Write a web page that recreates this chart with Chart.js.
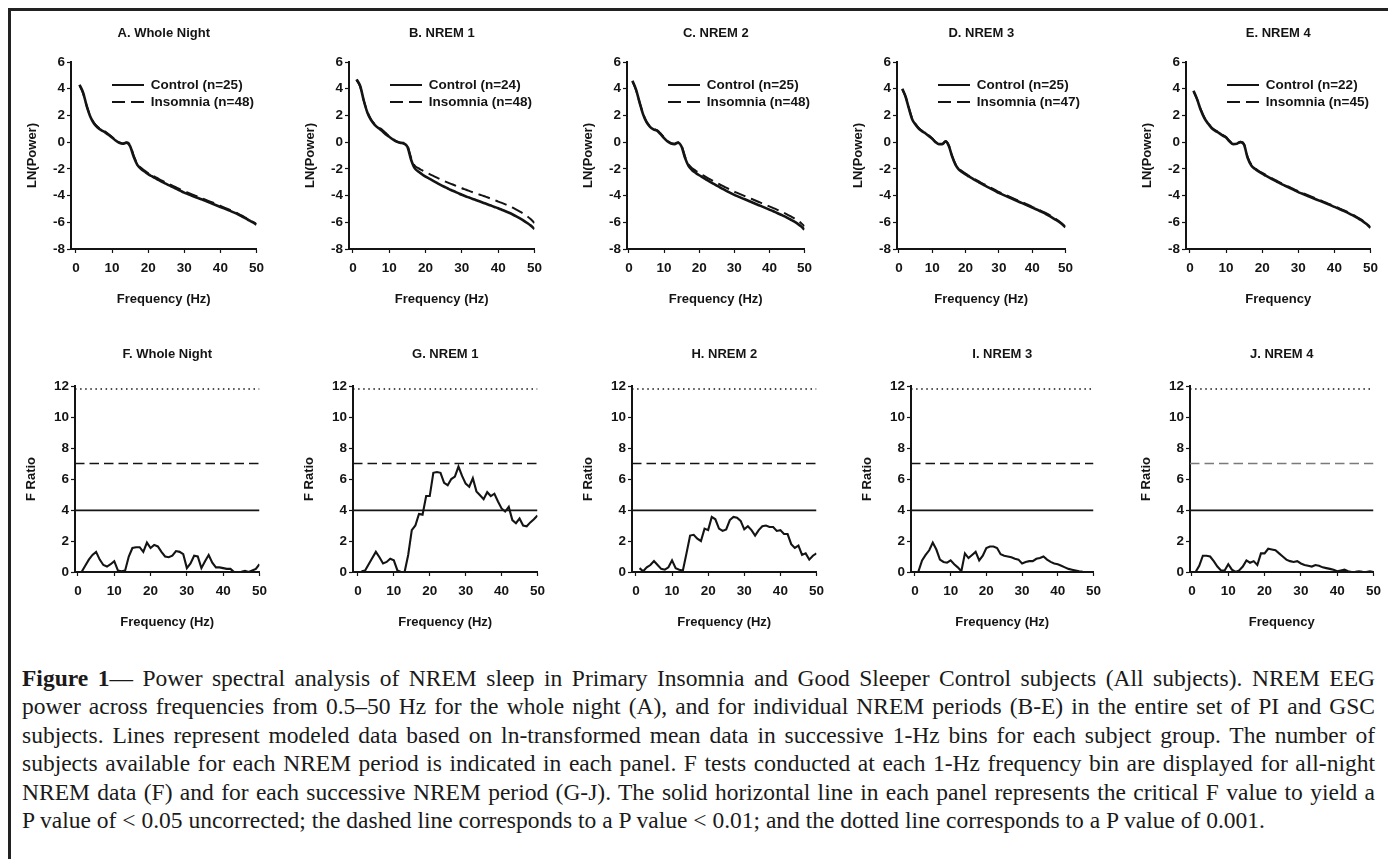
<!DOCTYPE html>
<html><head><meta charset="utf-8">
<script src="https://cdn.jsdelivr.net/npm/chart.js@4.4.1/dist/chart.umd.min.js"></script>
<style>
html,body{margin:0;padding:0;background:#fff;width:1388px;height:859px;overflow:hidden;position:relative;}
#frame{position:absolute;left:8px;top:8px;width:1400px;height:870px;border-top:3px solid #222;border-left:3px solid #222;}
canvas{position:absolute;}
#caption{position:absolute;left:22px;width:1353px;top:664px;font-family:"Liberation Serif","Times New Roman",serif;font-size:23.5px;line-height:28.4px;color:#1a1a1a;}
#caption .l{text-align:justify;text-align-last:justify;}
#caption .last{text-align:left;}
</style></head>
<body>
<div id="frame"></div>
<div id="caption">
<div class="l"><b>Figure 1</b>— Power spectral analysis of NREM sleep in Primary Insomnia and Good Sleeper Control subjects (All subjects). NREM EEG</div>
<div class="l">power across frequencies from 0.5–50 Hz for the whole night (A), and for individual NREM periods (B-E) in the entire set of PI and GSC</div>
<div class="l">subjects. Lines represent modeled data based on ln-transformed mean data in successive 1-Hz bins for each subject group. The number of</div>
<div class="l">subjects available for each NREM period is indicated in each panel. F tests conducted at each 1-Hz frequency bin are displayed for all-night</div>
<div class="l">NREM data (F) and for each successive NREM period (G-J). The solid horizontal line in each panel represents the critical F value to yield a</div>
<div class="last">P value of &lt; 0.05 uncorrected; the dashed line corresponds to a P value &lt; 0.01; and the dotted line corresponds to a P value of 0.001.</div>
</div>
<script>
// ---------------- DATA ----------------
const freqHz = [1,2,3,4,5,6,7,8,9,10,11,12,13,14,15,16,17,18,19,20,21,22,23,24,25,26,27,28,29,30,31,32,33,34,35,36,37,38,39,40,41,42,43,44,45,46,47,48,49,50];
const xTickValues = [0,10,20,30,40,50];
const powerTickValues = [-8,-6,-4,-2,0,2,4,6];
const fTickValues = [0,2,4,6,8,10,12];

const powerTitles = ['A. Whole Night','B. NREM 1','C. NREM 2','D. NREM 3','E. NREM 4'];
const fTitles = ['F. Whole Night','G. NREM 1','H. NREM 2','I. NREM 3','J. NREM 4'];
const powerXTitles = ['Frequency (Hz)','Frequency (Hz)','Frequency (Hz)','Frequency (Hz)','Frequency'];
const fXTitles = ['Frequency (Hz)','Frequency (Hz)','Frequency (Hz)','Frequency (Hz)','Frequency'];
const controlN = [25,24,25,25,22];
const insomniaN = [48,48,48,47,45];
const criticalF = [3.98, 7.0, 11.8]; // p<0.05, p<0.01, p=0.001

const controlA = [4.3,3.7,2.7,1.9,1.4,1.1,0.9,0.75,0.55,0.35,0.12,-0.05,-0.12,-0.05,-0.3,-1.1,-1.7,-2.0,-2.2,-2.4,-2.55,-2.7,-2.85,-3.0,-3.13,-3.26,-3.39,-3.52,-3.65,-3.78,-3.89,-4.0,-4.1,-4.2,-4.3,-4.41,-4.52,-4.63,-4.74,-4.85,-4.96,-5.07,-5.18,-5.3,-5.43,-5.57,-5.71,-5.86,-6.01,-6.17];
const insomniaA = [4.25,3.65,2.7,1.95,1.45,1.15,0.95,0.8,0.6,0.38,0.15,-0.02,-0.1,0.0,-0.2,-1.0,-1.62,-1.92,-2.12,-2.31,-2.46,-2.61,-2.76,-2.9,-3.03,-3.16,-3.29,-3.42,-3.55,-3.68,-3.79,-3.9,-4.01,-4.11,-4.21,-4.32,-4.43,-4.54,-4.65,-4.77,-4.88,-5.0,-5.12,-5.24,-5.37,-5.51,-5.66,-5.81,-5.97,-6.13];
const controlB = [4.7,4.2,3.1,2.2,1.65,1.3,1.05,0.85,0.6,0.4,0.2,0.05,-0.05,-0.1,-0.35,-1.3,-1.95,-2.2,-2.4,-2.58,-2.73,-2.88,-3.03,-3.18,-3.32,-3.45,-3.58,-3.7,-3.82,-3.94,-4.05,-4.15,-4.25,-4.35,-4.45,-4.55,-4.65,-4.75,-4.85,-4.95,-5.06,-5.17,-5.29,-5.42,-5.56,-5.71,-5.87,-6.05,-6.25,-6.5];
const insomniaB = [4.65,4.15,3.1,2.25,1.7,1.35,1.1,0.95,0.7,0.45,0.25,0.05,-0.05,-0.05,-0.25,-1.15,-1.75,-1.95,-2.1,-2.25,-2.38,-2.51,-2.64,-2.77,-2.9,-3.01,-3.12,-3.23,-3.34,-3.45,-3.55,-3.65,-3.75,-3.85,-3.94,-4.03,-4.13,-4.23,-4.33,-4.45,-4.55,-4.66,-4.78,-4.91,-5.05,-5.2,-5.36,-5.55,-5.78,-6.05];
const controlC = [4.6,3.95,3.0,2.1,1.5,1.15,0.95,0.85,0.6,0.3,0.05,-0.1,-0.15,-0.05,-0.35,-1.2,-1.8,-2.1,-2.3,-2.48,-2.64,-2.8,-2.95,-3.1,-3.25,-3.4,-3.54,-3.68,-3.82,-3.95,-4.06,-4.17,-4.28,-4.39,-4.5,-4.61,-4.72,-4.83,-4.94,-5.05,-5.16,-5.28,-5.4,-5.52,-5.65,-5.79,-5.93,-6.1,-6.3,-6.55];
const insomniaC = [4.55,3.9,3.0,2.15,1.55,1.2,1.0,0.9,0.65,0.35,0.1,-0.08,-0.12,0.0,-0.28,-1.1,-1.68,-1.95,-2.14,-2.31,-2.47,-2.62,-2.77,-2.91,-3.05,-3.19,-3.32,-3.45,-3.58,-3.71,-3.82,-3.93,-4.04,-4.15,-4.26,-4.37,-4.48,-4.59,-4.7,-4.81,-4.92,-5.03,-5.15,-5.27,-5.4,-5.54,-5.69,-5.86,-6.05,-6.3];
const controlD = [4.0,3.4,2.5,1.7,1.3,1.0,0.8,0.65,0.45,0.25,0.0,-0.15,-0.15,0.05,-0.3,-1.1,-1.7,-2.05,-2.25,-2.42,-2.57,-2.72,-2.87,-3.01,-3.15,-3.28,-3.41,-3.54,-3.67,-3.8,-3.91,-4.02,-4.13,-4.24,-4.35,-4.46,-4.57,-4.68,-4.79,-4.9,-5.01,-5.12,-5.24,-5.36,-5.5,-5.65,-5.8,-5.96,-6.15,-6.38];
const insomniaD = [3.95,3.4,2.55,1.75,1.35,1.05,0.85,0.7,0.5,0.28,0.03,-0.12,-0.12,0.08,-0.25,-1.05,-1.65,-1.98,-2.18,-2.36,-2.51,-2.66,-2.8,-2.94,-3.08,-3.21,-3.34,-3.47,-3.6,-3.73,-3.84,-3.95,-4.06,-4.17,-4.28,-4.39,-4.5,-4.61,-4.72,-4.84,-4.95,-5.06,-5.18,-5.3,-5.43,-5.58,-5.73,-5.9,-6.1,-6.35];
const controlE = [3.85,3.2,2.4,1.8,1.4,1.05,0.85,0.7,0.5,0.35,0.05,-0.15,-0.12,0.0,-0.2,-1.2,-1.75,-2.0,-2.2,-2.36,-2.51,-2.66,-2.81,-2.95,-3.09,-3.22,-3.35,-3.48,-3.61,-3.74,-3.85,-3.96,-4.07,-4.18,-4.29,-4.4,-4.51,-4.62,-4.73,-4.85,-4.96,-5.08,-5.2,-5.33,-5.47,-5.62,-5.78,-5.95,-6.15,-6.42];
const insomniaE = [3.8,3.2,2.45,1.85,1.45,1.1,0.9,0.75,0.55,0.38,0.08,-0.12,-0.1,0.03,-0.15,-1.12,-1.68,-1.94,-2.14,-2.3,-2.45,-2.6,-2.75,-2.89,-3.03,-3.16,-3.29,-3.42,-3.55,-3.68,-3.79,-3.9,-4.01,-4.12,-4.23,-4.34,-4.45,-4.56,-4.68,-4.8,-4.91,-5.03,-5.15,-5.28,-5.42,-5.57,-5.73,-5.91,-6.12,-6.38];

const fWholeNight = [0,0.4,0.8,1.1,1.3,0.8,0.45,0.35,0.5,0.7,0.1,0.05,0.1,1.0,1.55,1.6,1.6,1.3,1.9,1.55,1.75,1.65,1.3,1.0,0.95,1.05,1.35,1.3,1.15,0.25,0.55,1.05,1.0,0.25,0.7,1.1,0.6,0.3,0.3,0.25,0.2,0.2,0.0,0.0,0.02,0.08,0.0,0.1,0.2,0.5];
const fNrem1 = [0.05,0.1,0.5,0.9,1.3,0.95,0.55,0.65,0.85,0.75,0.1,0.0,0.0,1.1,2.7,3.0,3.75,3.7,4.9,4.9,6.4,6.45,6.4,5.75,5.6,6.0,6.15,6.8,6.2,5.7,5.5,6.05,5.2,4.95,4.7,5.15,4.9,5.05,4.55,4.1,3.9,4.2,3.35,3.15,3.45,3.0,2.95,3.2,3.4,3.65];
const fNrem2 = [0.25,0.05,0.3,0.45,0.7,0.45,0.2,0.15,0.3,0.75,0.25,0.15,0.1,1.2,2.35,2.4,2.15,2.0,2.8,2.7,3.55,3.4,2.8,2.65,2.75,3.35,3.55,3.5,3.3,2.75,2.95,2.7,2.35,2.7,2.95,3.0,2.9,2.9,2.65,2.7,2.45,2.45,1.8,1.55,1.7,1.1,1.2,0.8,1.05,1.2];
const fNrem3 = [0.05,0.75,1.1,1.4,1.9,1.45,0.8,0.65,0.6,0.75,0.5,0.3,0.05,1.2,0.9,1.1,1.3,0.75,1.05,1.55,1.65,1.65,1.55,1.15,1.05,1.0,0.95,0.85,0.8,0.55,0.65,0.7,0.7,0.85,0.9,1.0,0.8,0.65,0.55,0.5,0.4,0.3,0.2,0.15,0.1,0.05,0.02,0.0,0.0,0.0];
const fNrem4 = [0.0,0.4,1.05,1.05,1.0,0.7,0.35,0.1,0.1,0.5,0.15,0.0,0.1,0.35,0.75,0.6,0.7,0.45,1.2,1.2,1.5,1.45,1.4,1.2,1.0,0.8,0.7,0.65,0.7,0.55,0.45,0.4,0.35,0.45,0.4,0.3,0.25,0.2,0.15,0.05,0.1,0.15,0.05,0.0,0.02,0.05,0.02,0.0,0.05,0.0];

const controlSeries = [controlA, controlB, controlC, controlD, controlE];
const insomniaSeries = [insomniaA, insomniaB, insomniaC, insomniaD, insomniaE];
const fSeries = [fWholeNight, fNrem1, fNrem2, fNrem3, fNrem4];

// ---------------- LAYOUT (pixels) ----------------
const topAxisX = [71, 349, 627, 897, 1186];
const topZeroX = [76, 353, 629, 899, 1190];
const topEndX  = [260, 538, 808, 1069, 1374];
const botAxisX = [75, 353, 632, 911, 1190];
const botZeroX = [78, 358, 636, 915, 1192];
const botEndX  = [263, 541, 820, 1097, 1377];
const Y_W = 56, X_H = 60, PAD_R = 11;
const INK = '#141414';
const FAM = '"Liberation Sans", Arial, Helvetica, sans-serif';
Chart.defaults.font.family = FAM;
Chart.defaults.color = INK;

const legendMover = {
  id: 'legendMover',
  afterLayout(chart, args, opts) {
    const lg = chart.legend;
    if (!lg || !opts || opts.dx === undefined) return;
    const ca = chart.chartArea;
    lg.left = ca.left + opts.dx; lg.right = lg.left + 200;
    lg.top = ca.top + opts.dy; lg.bottom = lg.top + 100;
  }
};

function pts(ys) { return freqHz.map((f, i) => ({x: f, y: ys[i]})); }
function hline(xmin, v) { return [{x: xmin, y: v}, {x: 50, y: v}]; }

function makeCanvas(left, top, w, h) {
  const c = document.createElement('canvas');
  c.width = w; c.height = h;
  c.style.left = left + 'px'; c.style.top = top + 'px';
  c.style.width = w + 'px'; c.style.height = h + 'px';
  document.body.appendChild(c);
  return c;
}

function axes(xMin, yMin, yMax, yTicks, yTitle, xTitle, yTitlePad, xTitlePad) {
  const tickFont = {family: FAM, size: 13.5, weight: 'bold'};
  const titleFont = {family: FAM, size: 13, weight: 'bold'};
  return {
    x: {
      type: 'linear', min: xMin, max: 50,
      afterBuildTicks: s => { s.ticks = xTickValues.map(v => ({value: v})); },
      afterFit: s => { s.height = X_H; },
      border: {display: true, color: INK, width: 2},
      grid: {display: true, drawOnChartArea: false, drawTicks: true, tickLength: 4, tickColor: INK, tickWidth: 1.2},
      ticks: {font: tickFont, color: INK, padding: 7, maxRotation: 0, autoSkip: false},
      title: {display: true, text: xTitle, font: titleFont, color: INK, padding: {top: 0, bottom: xTitlePad}}
    },
    y: {
      type: 'linear', min: yMin, max: yMax,
      afterBuildTicks: s => { s.ticks = yTicks.map(v => ({value: v})); },
      afterFit: s => { s.width = Y_W; },
      border: {display: true, color: INK, width: 2},
      grid: {display: true, drawOnChartArea: false, drawTicks: true, tickLength: 4, tickColor: INK, tickWidth: 1.2},
      ticks: {font: tickFont, color: INK, padding: 2, autoSkip: false},
      title: {display: true, text: yTitle, font: titleFont, color: INK, padding: {top: yTitlePad, bottom: 0}}
    }
  };
}

function legendItems(chart) {
  return chart.data.datasets.map((ds, i) => ({
    text: ds.label, datasetIndex: i, hidden: false,
    fillStyle: 'rgba(0,0,0,0)', strokeStyle: ds.borderColor, fontColor: INK,
    lineWidth: 2, lineDash: ds.borderDash ? [13, 6] : [], lineCap: 'butt',
    pointStyle: 'line', rotation: 0
  }));
}

// ---------- top row: LN(Power) ----------
for (let i = 0; i < 5; i++) {
  const left = topAxisX[i] - Y_W;
  const w = topEndX[i] - left + PAD_R;
  const cv = makeCanvas(left, 10, w, 299);
  const xMin = -50 * (topZeroX[i] - topAxisX[i]) / (topEndX[i] - topZeroX[i]);
  new Chart(cv, {
    type: 'line',
    data: {datasets: [
      {label: 'Control (n=' + controlN[i] + ')', data: pts(controlSeries[i]), borderColor: INK, borderWidth: 2.6, pointRadius: 0, cubicInterpolationMode: 'monotone', fill: false},
      {label: 'Insomnia (n=' + insomniaN[i] + ')', data: pts(insomniaSeries[i]), borderColor: INK, borderWidth: 2, borderDash: [12, 6], pointRadius: 0, cubicInterpolationMode: 'monotone', fill: false}
    ]},
    options: {
      responsive: false, animation: false, devicePixelRatio: 1,
      layout: {padding: {left: 0, right: PAD_R, top: 0, bottom: 0}},
      scales: axes(xMin, -8, 6, powerTickValues, 'LN(Power)', powerXTitles[i], 9.2, 2.2),
      plugins: {
        title: {display: true, text: powerTitles[i], fullSize: false, font: {family: FAM, size: 13, weight: 'bold'}, color: INK, padding: {top: 15.2, bottom: 21.2}},
        legend: {display: true, position: 'chartArea', align: 'start',
          labels: {usePointStyle: true, pointStyle: 'line', pointStyleWidth: 32, padding: 3.5, color: INK,
            font: {family: FAM, size: 13.5, weight: 'bold'}, generateLabels: legendItems}},
        legendMover: {dx: 37.5, dy: 12.75},
        tooltip: {enabled: false}
      }
    },
    plugins: [legendMover]
  });
}

// ---------- bottom row: F Ratio ----------
for (let i = 0; i < 5; i++) {
  const left = botAxisX[i] - Y_W;
  const w = botEndX[i] - left + PAD_R;
  const cv = makeCanvas(left, 330, w, 302);
  const xMin = -50 * (botZeroX[i] - botAxisX[i]) / (botEndX[i] - botZeroX[i]);
  const dashColor = i === 4 ? '#7a7a7a' : INK;
  new Chart(cv, {
    type: 'line',
    data: {datasets: [
      {label: 'p<0.001', data: hline(xMin, criticalF[2]), borderColor: INK, borderWidth: 1.5, borderDash: [1.5, 3.6], pointRadius: 0},
      {label: 'p<0.01', data: hline(xMin, criticalF[1]), borderColor: dashColor, borderWidth: 1.4, borderDash: [9.5, 5], pointRadius: 0},
      {label: 'p<0.05', data: hline(xMin, criticalF[0]), borderColor: INK, borderWidth: 1.8, pointRadius: 0},
      {label: 'F', data: pts(fSeries[i]), borderColor: INK, borderWidth: 2.1, pointRadius: 0, tension: 0}
    ]},
    options: {
      responsive: false, animation: false, devicePixelRatio: 1,
      layout: {padding: {left: 0, right: PAD_R, top: 0, bottom: 0}},
      scales: axes(xMin, 0, 12, fTickValues, 'F Ratio', fXTitles[i], 4.2, 2.2),
      plugins: {
        title: {display: true, text: fTitles[i], fullSize: false, font: {family: FAM, size: 13, weight: 'bold'}, color: INK, padding: {top: 16.2, bottom: 24.2}},
        legend: {display: false},
        tooltip: {enabled: false}
      }
    }
  });
}
</script>
</body></html>
